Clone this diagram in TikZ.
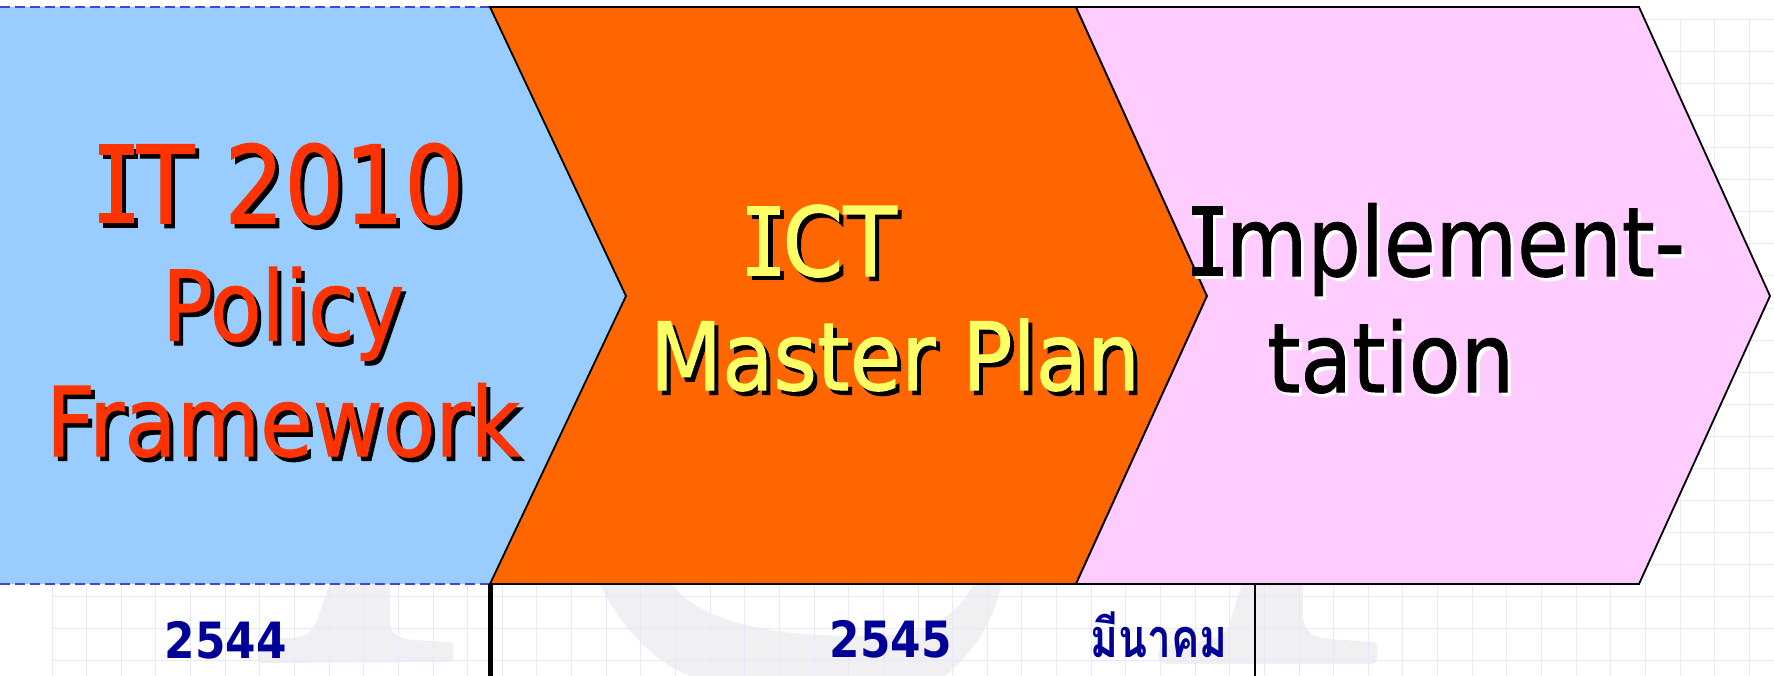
\documentclass[tikz,border=0pt]{standalone}
\usepackage{fontspec}
\usepackage{graphicx}
\setmainfont{DejaVu Sans}
\newfontfamily\titlefont[FakeBold=1.1]{DejaVu Sans}
\newfontfamily\thaifont[Script=Thai]{Loma}

\definecolor{skyfill}{RGB}{153,204,255}
\definecolor{orangefill}{RGB}{255,102,0}
\definecolor{pinkfill}{RGB}{255,204,255}
\definecolor{titlered}{RGB}{255,51,0}
\definecolor{titleyellow}{RGB}{255,255,102}
\definecolor{yearblue}{RGB}{0,0,153}
\definecolor{dashblue}{RGB}{68,68,221}
\definecolor{gridlav}{RGB}{232,232,250}
\definecolor{markgray}{RGB}{240,240,243}

% capital I with crossbars, built from rules (em-relative)
\newcommand\serifI{\kern0.03em\rlap{\rule{0.37em}{0.095em}}\rlap{\rule[0.637em]{0.37em}{0.095em}}\kern0.13em\rule{0.11em}{0.732em}\kern0.16em}

% squeeze text horizontally to a given width
\newcommand\fitw[2]{\sbox0{#2}\pgfmathsetmacro\fitratio{#1/\the\wd0}\scalebox{\fitratio}[1]{\usebox0}}

% same, with a drop shadow: #1 width, #2 shadow colour, #3 colour, #4 offset, #5 text
\newcommand\fitsh[5]{\sbox0{#5}\pgfmathsetmacro\fitratio{#1/\the\wd0}%
  \scalebox{\fitratio}[1]{\rlap{\kern#4pt\raisebox{-#4pt}{\textcolor{#2}{#5}}}\textcolor{#3}{#5}}}

\begin{document}
\begin{tikzpicture}[x=1pt,y=-1pt,
  txt/.style={inner sep=0pt,outer sep=0pt,anchor=base},
  gridline/.style={draw=gridlav,line width=1pt},
  chevron/.style={draw=black,line width=1.8pt,line join=miter},
  edgedash/.style={draw=dashblue,line width=1.6pt,dash pattern=on 10pt off 5pt}]

\useasboundingbox (0,0) rectangle (1774,676);
\fill[white] (0,0) rectangle (1774,676);

% faint watermark letters behind everything
\fill[markgray] (331,580) -- (318,618) .. controls (312,634) and (305,637) .. (290,638)
  -- (262,639) .. controls (259,639) and (258,641) .. (258,644) -- (258,659)
  .. controls (258,662) and (260,663) .. (263,663) -- (449,662)
  .. controls (452,662) and (453,660) .. (453,658) -- (453,646)
  .. controls (453,643) and (451,642) .. (448,642) -- (415,640)
  .. controls (398,639) and (390,634) .. (390,622) -- (390,580) -- cycle;
\fill[markgray] (1243,580) -- (1228,628) .. controls (1222,640) and (1200,642) .. (1175,644)
  .. controls (1160,646) and (1158,650) .. (1158,656) .. controls (1158,662) and (1162,664) .. (1170,664)
  -- (1370,664) .. controls (1376,664) and (1377,662) .. (1377,658) -- (1377,646)
  .. controls (1377,643) and (1375,642) .. (1370,642) -- (1330,639)
  .. controls (1310,637) and (1303,630) .. (1303,615) -- (1303,580) -- cycle;
\fill[markgray] (598,580) .. controls (620,630) and (660,665) .. (690,676) -- (945,676)
  .. controls (975,650) and (995,620) .. (1002,580) -- (975,580)
  .. controls (960,615) and (930,634) .. (880,636)
  .. controls (780,638) and (700,625) .. (668,580) -- cycle;

% background grid
\foreach \k in {0,...,49} \draw[gridline] ({52+34.64*\k},20) -- ({52+34.64*\k},676);
\foreach \k in {0,...,20} \draw[gridline] (52,{20+32*\k}) -- (1774,{20+32*\k});

% chevron corners
\coordinate (a1) at (0,7);    \coordinate (a2) at (490,7);
\coordinate (a3) at (626,296);\coordinate (a4) at (490,584); \coordinate (a5) at (0,584);
\coordinate (b2) at (1076,7); \coordinate (b3) at (1207,296); \coordinate (b4) at (1076,584);
\coordinate (c2) at (1639,7); \coordinate (c3) at (1770,296); \coordinate (c4) at (1639,584);

% first stage
\fill[skyfill] (a1) -- (a2) -- (a3) -- (a4) -- (a5) -- cycle;
\draw[edgedash] (a1) -- (a2);
\draw[edgedash] (a5) -- (a4);
% second stage
\filldraw[fill=orangefill,chevron] (a2) -- (b2) -- (b3) -- (b4) -- (a4) -- (a3) -- cycle;
% third stage
\filldraw[fill=pinkfill,chevron] (b2) -- (c2) -- (c3) -- (c4) -- (b4) -- (b3) -- cycle;

% timeline dividers
\coordinate (d1) at (490.5,676);
\coordinate (e1) at (1254.5,584); \coordinate (e2) at (1254.5,676);
\draw[line width=4.5pt] (a4) ++(0.5,0) -- (d1);
\draw[line width=2pt] (e1) -- (e2);

% stage titles
\node[txt] (itline) at (280.3,223.3)
  {\fitsh{368}{black}{titlered}{4.5}{\titlefont\fontsize{108}{108}\selectfont\serifI T 2010}};
\node[txt] (policy) at (283.2,340.5)
  {\fitsh{242}{black}{titlered}{4.5}{\titlefont\fontsize{97}{97}\selectfont Policy}};
\node[txt] (framework) at (283,456)
  {\fitsh{474}{black}{titlered}{4.5}{\titlefont\fontsize{96}{96}\selectfont Framework}};

\node[txt] (ict) at (820.8,276)
  {\fitsh{152}{black}{titleyellow}{4.5}{\titlefont\fontsize{96}{96}\selectfont\serifI CT}};
\node[txt] (master) at (895,390)
  {\fitsh{490}{black}{titleyellow}{4.5}{\titlefont\fontsize{94}{94}\selectfont Master Plan}};

\node[txt] (impl) at (1437.4,276)
  {\fitsh{495}{white}{black}{3.5}{\titlefont\fontsize{96}{96}\selectfont\serifI mplement-}};
\node[txt] (tation) at (1390.7,392)
  {\fitsh{247}{white}{black}{3.5}{\titlefont\fontsize{96}{96}\selectfont tation}};

% timeline labels
\node[txt,text=yearblue] (y2544) at (225.8,658.3)
  {\fitw{122}{\fontsize{50}{50}\selectfont\bfseries 2544}};
\node[txt,text=yearblue] (y2545) at (890.8,657)
  {\fitw{122}{\fontsize{50}{50}\selectfont\bfseries 2545}};
\node[txt,text=yearblue] (march) at (1159.2,657)
  {\fitw{137}{\thaifont\fontsize{54}{54}\selectfont\bfseries มีนาคม}};
\end{tikzpicture}
\end{document}
